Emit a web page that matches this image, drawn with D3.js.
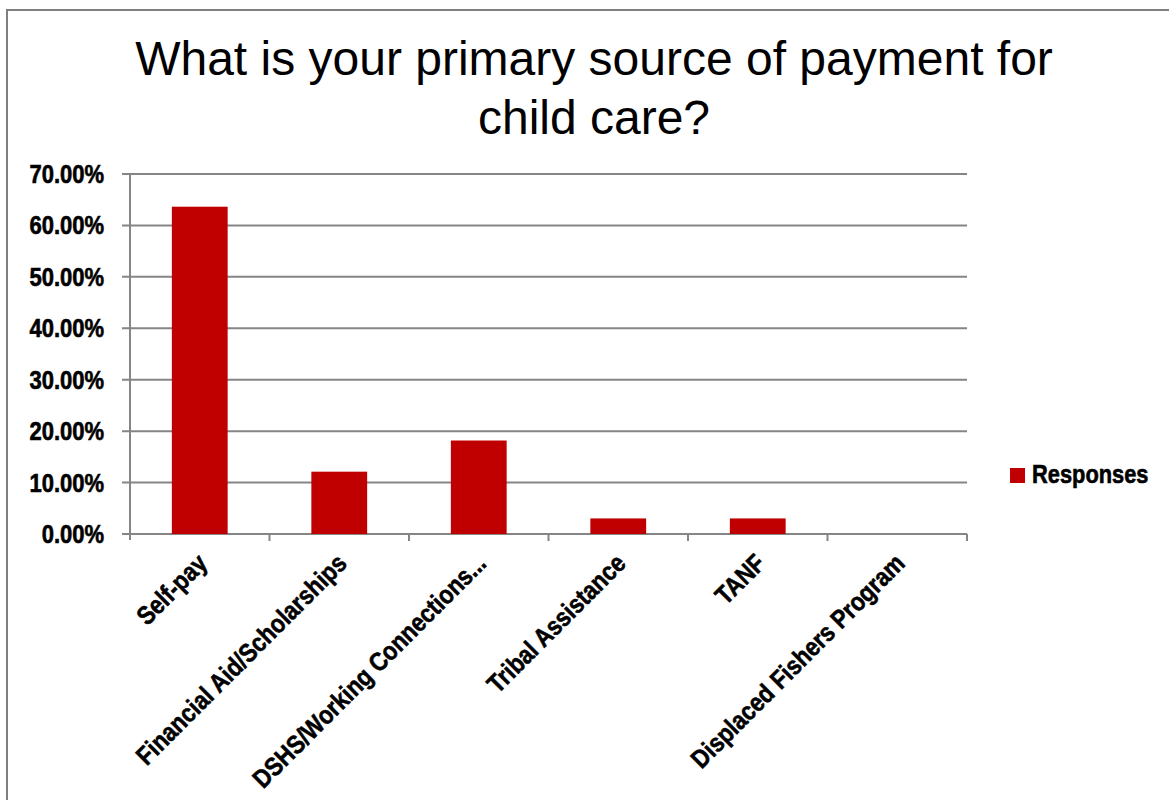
<!DOCTYPE html>
<html>
<head>
<meta charset="utf-8">
<script src="https://cdn.jsdelivr.net/npm/d3@7"></script>
<style>
  body { margin: 0; background: #fff; }
  svg { display: block; }
  .lbl { font-family: "Liberation Sans", Arial, sans-serif; font-weight: bold; fill: #000; stroke: #000; stroke-width: 0.6px; }
</style>
</head>
<body>
<svg id="chart" width="1169" height="800"></svg>
<script>
// chart data
const categories = ['Self-pay', 'Financial Aid/Scholarships', 'DSHS/Working Connections...', 'Tribal Assistance', 'TANF', 'Displaced Fishers Program'];
const responses = [0.6364, 0.1212, 0.1818, 0.0303, 0.0303, 0];
const yTicks = [0, 0.1, 0.2, 0.3, 0.4, 0.5, 0.6, 0.7];
const titleLines = ['What is your primary source of payment for', 'child care?'];
const seriesName = 'Responses';

const margin = { top: 174, left: 130 },
  width = 967 - 130,
  height = 534 - 174;
const squeeze = 0.86; // narrow look of the label font

const svg = d3.select('#chart');

// outer frame
svg.append('rect')
  .attr('x', 7).attr('y', 10)
  .attr('width', 1200).attr('height', 820)
  .attr('fill', 'none')
  .attr('stroke', '#7f7f7f')
  .attr('stroke-width', 2);

// title
svg.append('text')
  .attr('text-anchor', 'middle')
  .style('font-family', '"Liberation Sans", Arial, sans-serif')
  .style('font-size', '48px')
  .selectAll('tspan')
  .data(titleLines)
  .enter().append('tspan')
  .attr('x', 594)
  .attr('y', (d, i) => 75 + i * 59)
  .text(d => d);

const g = svg.append('g')
  .attr('transform', 'translate(' + margin.left + ',' + margin.top + ')');

const x = d3.scaleBand()
  .domain(categories)
  .range([0, width]);

const y = d3.scaleLinear()
  .domain([0, 0.7])
  .range([height, 0]);

// gridlines
g.selectAll('line.grid')
  .data(yTicks)
  .enter().append('line')
  .attr('class', 'grid')
  .attr('x1', -8).attr('x2', width)
  .attr('y1', d => y(d)).attr('y2', d => y(d))
  .attr('stroke', '#858585')
  .attr('stroke-width', 2);

// y axis line
g.append('line')
  .attr('x1', 0).attr('x2', 0)
  .attr('y1', 0).attr('y2', height + 6)
  .attr('stroke', '#858585')
  .attr('stroke-width', 2);

// x category ticks
const bounds = categories.map(c => x(c)).concat([width]);
g.selectAll('line.xtick')
  .data(bounds.slice(1))
  .enter().append('line')
  .attr('class', 'xtick')
  .attr('x1', d => d).attr('x2', d => d)
  .attr('y1', height).attr('y2', height + 7)
  .attr('stroke', '#858585')
  .attr('stroke-width', 2);

// y labels
g.selectAll('text.ylab')
  .data(yTicks)
  .enter().append('text')
  .attr('class', 'lbl')
  .attr('text-anchor', 'end')
  .attr('transform', d => 'translate(-26,' + (y(d) + 9) + ') scale(0.88,1)')
  .style('font-size', '25px')
  .text(d => d3.format('.2%')(d));

// bars
const bw = x.bandwidth() * 0.4;
g.selectAll('rect.bar')
  .data(responses)
  .enter().append('rect')
  .attr('class', 'bar')
  .attr('x', (d, i) => x(categories[i]) + (x.bandwidth() - bw) / 2)
  .attr('y', d => y(d))
  .attr('width', bw)
  .attr('height', d => height - y(d))
  .attr('fill', '#c00000');

// x labels
g.selectAll('text.xlab')
  .data(categories)
  .enter().append('text')
  .attr('class', 'lbl')
  .attr('text-anchor', 'end')
  .style('font-size', '26px')
  .attr('transform', d => 'translate(' + (x(d) + x.bandwidth() / 2 + 9) + ',' + (height + 31) + ') rotate(-45) scale(' + squeeze + ',1)')
  .text(d => d);

// legend
const lg = svg.append('g').attr('transform', 'translate(1010,468)');
lg.append('rect')
  .attr('width', 15).attr('height', 15)
  .attr('fill', '#c00000');
lg.append('text')
  .attr('class', 'lbl')
  .attr('transform', 'translate(22,15) scale(0.84,1)')
  .style('font-size', '26px')
  .text(seriesName);
</script>
</body>
</html>
